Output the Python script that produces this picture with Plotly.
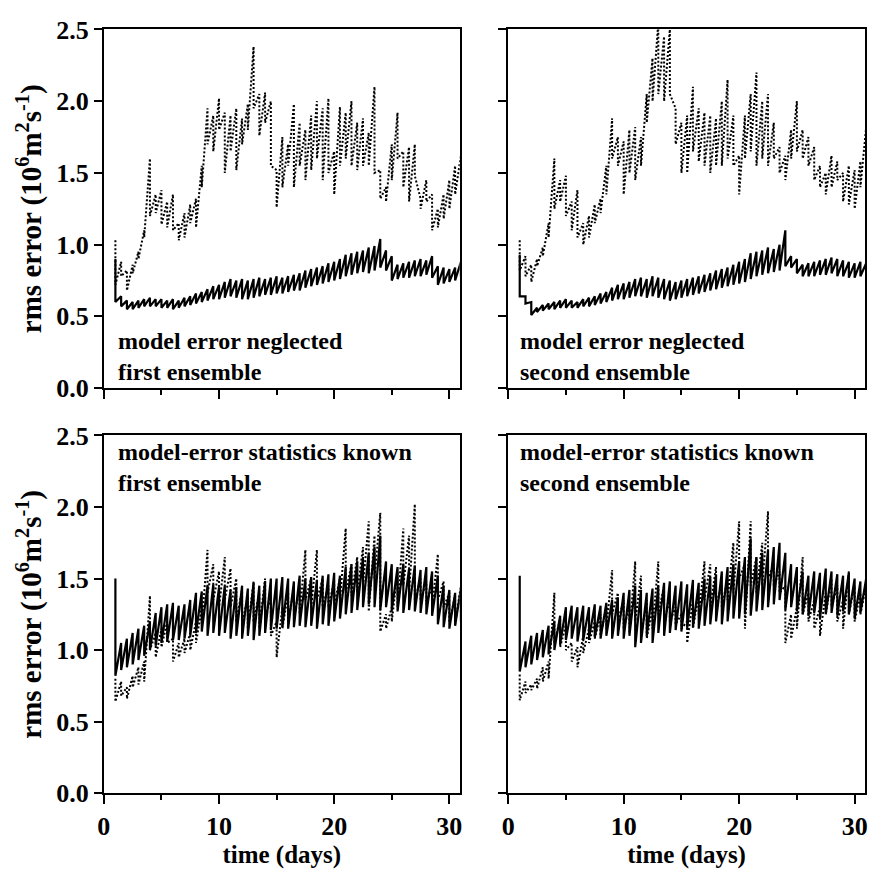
import plotly.graph_objects as go

# Analysis times (days), every 12 h from day 1 to day 31
times = [1 + 0.5 * k for k in range(61)]

# Each series: pairs (forecast peak, analysis trough) at each analysis time
# ---- model error neglected, first ensemble ----
tl_solid = [
    0.90, 0.60, 0.64, 0.57, 0.61, 0.55, 0.60, 0.55, 0.61, 0.56, 0.62, 0.57,
    0.63, 0.57, 0.62, 0.57, 0.62, 0.56, 0.61, 0.56, 0.62, 0.55, 0.61, 0.56,
    0.63, 0.57, 0.64, 0.58, 0.66, 0.59, 0.67, 0.60, 0.69, 0.61, 0.71, 0.62,
    0.72, 0.62, 0.74, 0.63, 0.76, 0.64, 0.75, 0.63, 0.76, 0.62, 0.75, 0.62,
    0.76, 0.63, 0.77, 0.64, 0.76, 0.65, 0.77, 0.65, 0.78, 0.66, 0.77, 0.66,
    0.78, 0.67, 0.79, 0.68, 0.80, 0.68, 0.82, 0.70, 0.83, 0.71, 0.84, 0.72,
    0.85, 0.73, 0.87, 0.74, 0.88, 0.75, 0.90, 0.76, 0.93, 0.78, 0.94, 0.79,
    0.95, 0.80, 0.96, 0.81, 0.98, 0.80, 0.99, 0.82, 1.04, 0.84, 0.96, 0.82,
    0.92, 0.75, 0.86, 0.76, 0.87, 0.77, 0.88, 0.77, 0.89, 0.78, 0.90, 0.78,
    0.89, 0.79, 0.92, 0.77, 0.85, 0.72, 0.84, 0.73, 0.83, 0.74, 0.84, 0.75,
    0.88, 0.78,
]
tl_dotted = [
    1.03, 0.72, 0.88, 0.78, 0.82, 0.68, 0.86, 0.80, 0.95, 0.90, 1.10, 1.05,
    1.60, 1.20, 1.35, 1.22, 1.38, 1.14, 1.30, 1.12, 1.35, 1.10, 1.15, 1.03,
    1.22, 1.05, 1.28, 1.15, 1.32, 1.12, 1.55, 1.40, 1.95, 1.70, 1.90, 1.65,
    2.02, 1.80, 1.92, 1.50, 1.90, 1.65, 1.95, 1.52, 1.88, 1.70, 1.98, 1.80,
    2.38, 1.95, 2.05, 1.76, 2.06, 1.85, 2.00, 1.55, 1.52, 1.26, 1.75, 1.40,
    1.70, 1.55, 1.98, 1.40, 1.85, 1.55, 1.80, 1.45, 1.90, 1.52, 2.00, 1.60,
    1.95, 1.45, 2.02, 1.50, 1.65, 1.35, 1.96, 1.55, 1.92, 1.60, 2.00, 1.55,
    1.85, 1.52, 1.88, 1.55, 1.78, 1.55, 2.10, 1.50, 1.52, 1.32, 1.40, 1.30,
    1.70, 1.45, 1.92, 1.60, 1.65, 1.40, 1.68, 1.30, 1.70, 1.48, 1.32, 1.25,
    1.45, 1.30, 1.35, 1.10, 1.25, 1.12, 1.35, 1.18, 1.45, 1.25, 1.55, 1.35,
    1.62, 1.45,
]
# ---- model error neglected, second ensemble ----
tr_solid = [
    0.93, 0.64, 0.64, 0.59, 0.60, 0.51, 0.56, 0.53, 0.58, 0.54, 0.59, 0.55,
    0.60, 0.55, 0.61, 0.56, 0.62, 0.56, 0.61, 0.56, 0.60, 0.56, 0.62, 0.57,
    0.63, 0.57, 0.64, 0.58, 0.66, 0.59, 0.67, 0.60, 0.70, 0.61, 0.72, 0.62,
    0.73, 0.62, 0.74, 0.63, 0.76, 0.64, 0.77, 0.64, 0.76, 0.63, 0.78, 0.64,
    0.77, 0.63, 0.76, 0.62, 0.75, 0.61, 0.74, 0.62, 0.75, 0.63, 0.76, 0.64,
    0.77, 0.65, 0.78, 0.66, 0.79, 0.67, 0.80, 0.68, 0.82, 0.69, 0.83, 0.70,
    0.84, 0.71, 0.86, 0.72, 0.88, 0.73, 0.90, 0.74, 0.94, 0.76, 0.95, 0.78,
    0.96, 0.79, 0.98, 0.80, 0.97, 0.81, 1.00, 0.82, 1.10, 0.85, 0.92, 0.84,
    0.90, 0.80, 0.86, 0.78, 0.87, 0.78, 0.88, 0.78, 0.89, 0.79, 0.90, 0.79,
    0.91, 0.80, 0.90, 0.78, 0.89, 0.78, 0.88, 0.77, 0.87, 0.77, 0.88, 0.78,
    0.87, 0.80,
]
tr_dotted = [
    1.03, 0.82, 0.92, 0.78, 0.86, 0.74, 0.90, 0.85, 0.98, 0.92, 1.15, 1.05,
    1.60, 1.25, 1.45, 1.30, 1.48, 1.20, 1.30, 1.10, 1.38, 1.05, 1.15, 1.00,
    1.20, 1.05, 1.28, 1.15, 1.32, 1.22, 1.55, 1.35, 1.88, 1.60, 1.75, 1.55,
    1.72, 1.35, 1.80, 1.50, 1.82, 1.45, 1.75, 1.55, 2.05, 1.85, 2.30, 2.00,
    2.55, 2.05, 2.45, 2.00, 2.50, 2.05, 1.95, 1.70, 1.85, 1.50, 1.90, 1.50,
    2.10, 1.65, 1.95, 1.58, 1.92, 1.55, 1.90, 1.50, 1.88, 1.55, 2.00, 1.55,
    2.15, 1.60, 1.90, 1.55, 1.62, 1.35, 1.90, 1.60, 2.05, 1.65, 2.20, 1.55,
    2.00, 1.60, 2.05, 1.55, 1.85, 1.60, 1.68, 1.50, 1.62, 1.45, 1.80, 1.60,
    2.00, 1.65, 1.80, 1.60, 1.75, 1.55, 1.68, 1.45, 1.55, 1.40, 1.50, 1.35,
    1.62, 1.40, 1.58, 1.45, 1.50, 1.30, 1.55, 1.28, 1.52, 1.25, 1.58, 1.40,
    1.82, 1.45,
]
# ---- model-error statistics known, first ensemble ----
bl_solid = [
    1.50, 0.82, 1.05, 0.86, 1.08, 0.88, 1.12, 0.90, 1.15, 0.93, 1.17, 0.96,
    1.20, 1.00, 1.26, 1.03, 1.30, 1.05, 1.32, 1.06, 1.33, 1.07, 1.31, 1.07,
    1.32, 1.08, 1.35, 1.10, 1.40, 1.12, 1.41, 1.13, 1.45, 1.10, 1.46, 1.12,
    1.44, 1.10, 1.45, 1.12, 1.42, 1.08, 1.44, 1.10, 1.45, 1.08, 1.43, 1.10,
    1.47, 1.07, 1.45, 1.10, 1.48, 1.12, 1.50, 1.14, 1.50, 1.15, 1.51, 1.16,
    1.50, 1.15, 1.48, 1.16, 1.52, 1.17, 1.50, 1.16, 1.51, 1.17, 1.49, 1.15,
    1.52, 1.18, 1.53, 1.17, 1.54, 1.20, 1.52, 1.22, 1.58, 1.25, 1.60, 1.26,
    1.62, 1.28, 1.65, 1.30, 1.68, 1.32, 1.72, 1.30, 1.80, 1.28, 1.62, 1.30,
    1.60, 1.28, 1.58, 1.27, 1.60, 1.26, 1.57, 1.28, 1.59, 1.27, 1.56, 1.26,
    1.58, 1.25, 1.55, 1.24, 1.52, 1.18, 1.45, 1.16, 1.42, 1.15, 1.40, 1.17,
    1.43, 1.20,
]
bl_dotted = [
    0.80, 0.64, 0.78, 0.68, 0.74, 0.66, 0.82, 0.74, 0.88, 0.76, 0.92, 0.78,
    1.38, 1.00, 1.12, 0.95, 1.15, 1.02, 1.20, 1.05, 1.08, 0.92, 1.05, 0.95,
    1.08, 0.98, 1.12, 1.00, 1.20, 1.05, 1.30, 1.18, 1.70, 1.40, 1.60, 1.35,
    1.55, 1.30, 1.65, 1.35, 1.57, 1.30, 1.50, 1.20, 1.42, 1.18, 1.38, 1.15,
    1.48, 1.20, 1.40, 1.15, 1.50, 1.25, 1.35, 1.10, 1.20, 0.95, 1.30, 1.15,
    1.40, 1.20, 1.42, 1.22, 1.45, 1.25, 1.70, 1.35, 1.50, 1.30, 1.70, 1.35,
    1.50, 1.30, 1.45, 1.30, 1.48, 1.32, 1.50, 1.35, 1.85, 1.40, 1.60, 1.38,
    1.65, 1.40, 1.72, 1.45, 1.90, 1.27, 1.80, 1.50, 1.96, 1.13, 1.25, 1.15,
    1.30, 1.20, 1.55, 1.30, 1.85, 1.45, 1.80, 1.40, 2.02, 1.35, 1.50, 1.35,
    1.48, 1.32, 1.45, 1.30, 1.67, 1.35, 1.48, 1.30, 1.40, 1.20, 1.38, 1.18,
    1.45, 1.25,
]
# ---- model-error statistics known, second ensemble ----
br_solid = [
    1.52, 0.85, 1.06, 0.88, 1.10, 0.90, 1.12, 0.93, 1.14, 0.95, 1.17, 0.97,
    1.20, 1.00, 1.24, 1.04, 1.30, 1.07, 1.31, 1.08, 1.30, 1.06, 1.31, 1.07,
    1.30, 1.08, 1.32, 1.09, 1.31, 1.08, 1.33, 1.10, 1.35, 1.08, 1.37, 1.10,
    1.40, 1.08, 1.42, 1.10, 1.45, 1.02, 1.42, 1.05, 1.40, 1.10, 1.43, 1.05,
    1.45, 1.12, 1.47, 1.10, 1.48, 1.12, 1.45, 1.14, 1.48, 1.13, 1.46, 1.15,
    1.49, 1.16, 1.47, 1.15, 1.50, 1.17, 1.51, 1.18, 1.53, 1.20, 1.55, 1.18,
    1.58, 1.20, 1.60, 1.22, 1.62, 1.22, 1.65, 1.25, 1.78, 1.24, 1.65, 1.27,
    1.68, 1.28, 1.70, 1.30, 1.72, 1.32, 1.75, 1.35, 1.68, 1.28, 1.60, 1.30,
    1.58, 1.27, 1.55, 1.25, 1.52, 1.24, 1.55, 1.26, 1.54, 1.22, 1.57, 1.25,
    1.55, 1.26, 1.53, 1.24, 1.52, 1.27, 1.54, 1.25, 1.50, 1.22, 1.48, 1.26,
    1.50, 1.30,
]
br_dotted = [
    0.83, 0.65, 0.78, 0.70, 0.76, 0.72, 0.80, 0.73, 0.88, 0.78, 0.92, 0.80,
    1.40, 1.05, 1.22, 1.02, 1.18, 1.00, 1.05, 0.92, 1.02, 0.88, 1.10, 0.98,
    1.15, 1.05, 1.20, 1.08, 1.25, 1.10, 1.30, 1.15, 1.56, 1.25, 1.40, 1.20,
    1.35, 1.15, 1.30, 1.12, 1.62, 1.20, 1.52, 1.10, 1.35, 1.08, 1.30, 1.15,
    1.62, 1.25, 1.45, 1.20, 1.35, 1.20, 1.30, 1.18, 1.25, 1.15, 1.20, 1.05,
    1.35, 1.15, 1.40, 1.25, 1.62, 1.35, 1.60, 1.30, 1.58, 1.32, 1.45, 1.30,
    1.50, 1.35, 1.75, 1.40, 1.90, 1.50, 1.60, 1.15, 1.90, 1.45, 1.65, 1.40,
    1.75, 1.45, 1.97, 1.50, 1.60, 1.45, 1.55, 1.40, 1.45, 1.05, 1.25, 1.08,
    1.30, 1.15, 1.65, 1.25, 1.40, 1.20, 1.35, 1.15, 1.30, 1.10, 1.40, 1.25,
    1.50, 1.30, 1.45, 1.20, 1.35, 1.15, 1.55, 1.25, 1.45, 1.20, 1.40, 1.25,
    1.45, 1.28,
]

panel_labels = [
    "model error neglected<br>first ensemble",
    "model error neglected<br>second ensemble",
    "model-error statistics known<br>first ensemble",
    "model-error statistics known<br>second ensemble",
]
x_ticks = [0, 10, 20, 30]
y_ticks = [0.0, 0.5, 1.0, 1.5, 2.0, 2.5]
y_title = "rms error (10<sup>6</sup>m<sup>2</sup>s<sup>-1</sup>)"
x_title = "time (days)"

# x coordinates: each analysis time appears twice (forecast, then analysis)
xs = [t for t in times for _ in range(2)]

W, H = 870, 871
FONT = "Liberation Serif"

# panel boxes in pixels: (left, right, top, bottom)
boxes = [(98, 458, 16, 387), (507, 868, 16, 387),
         (98, 458, 436, 806), (507, 868, 436, 806)]

fig = go.Figure()
series = [(tl_solid, tl_dotted), (tr_solid, tr_dotted),
          (bl_solid, bl_dotted), (br_solid, br_dotted)]

for i, (solid, dotted) in enumerate(series):
    ax = "" if i == 0 else str(i + 1)
    fig.add_trace(go.Scatter(x=xs, y=dotted, mode="lines", xaxis="x" + ax, yaxis="y" + ax,
                             line=dict(color="black", width=2, dash="2px,2px"),
                             showlegend=False))
    fig.add_trace(go.Scatter(x=xs, y=solid, mode="lines", xaxis="x" + ax, yaxis="y" + ax,
                             line=dict(color="black", width=2.2),
                             showlegend=False))

tickfont = dict(family=FONT, size=26, color="black", weight="bold")
layout = {}
for i, (l, r, t, b) in enumerate(boxes):
    ax = "" if i == 0 else str(i + 1)
    left_col = i in (0, 2)
    bottom_row = i in (2, 3)
    xa = dict(domain=[l / W, r / W], range=[0, 30.9], anchor="y" + ax,
              tickvals=x_ticks, ticktext=[str(v) for v in x_ticks],
              showticklabels=bottom_row, ticks="outside", ticklen=9, tickwidth=2,
              tickcolor="black", showline=True, linecolor="black", linewidth=2,
              mirror=True, showgrid=False, zeroline=False, tickfont=tickfont,
              minor=dict(tickvals=[5, 15, 25], ticks="outside", ticklen=5,
                         tickwidth=1.5, tickcolor="black", showgrid=False))
    if bottom_row:
        xa["title"] = dict(text="<b>" + x_title + "</b>", standoff=2,
                           font=dict(family=FONT, size=25, color="black"))
    ya = dict(domain=[1 - b / H, 1 - t / H], range=[0, 2.5], anchor="x" + ax,
              tickvals=y_ticks, ticktext=["%.1f" % v for v in y_ticks],
              showticklabels=left_col, ticks="outside", ticklen=8, tickwidth=2,
              tickcolor="black", showline=True, linecolor="black", linewidth=2,
              mirror=True, showgrid=False, zeroline=False, tickfont=tickfont)
    if left_col:
        ya["title"] = dict(text="<b>" + y_title + "</b>", standoff=6,
                           font=dict(family=FONT, size=29, color="black"))
    layout["xaxis" + ax] = xa
    layout["yaxis" + ax] = ya

annotations = []
for i, txt in enumerate(panel_labels):
    ax = "" if i == 0 else str(i + 1)
    top_row = i in (0, 1)
    annotations.append(dict(
        text="<b>" + txt + "</b>", xref="x" + ax + " domain", yref="y" + ax + " domain",
        x=0.033 if i in (0, 2) else 0.028, y=0.089 if top_row else 0.911,
        xanchor="left", yanchor="middle", showarrow=False, align="left",
        font=dict(family=FONT, size=24, color="black")))

fig.update_layout(**layout)
fig.update_layout(width=W, height=H, margin=dict(l=0, r=0, t=0, b=0),
                  paper_bgcolor="white", plot_bgcolor="white",
                  annotations=annotations)

fig.write_html("out.html")
